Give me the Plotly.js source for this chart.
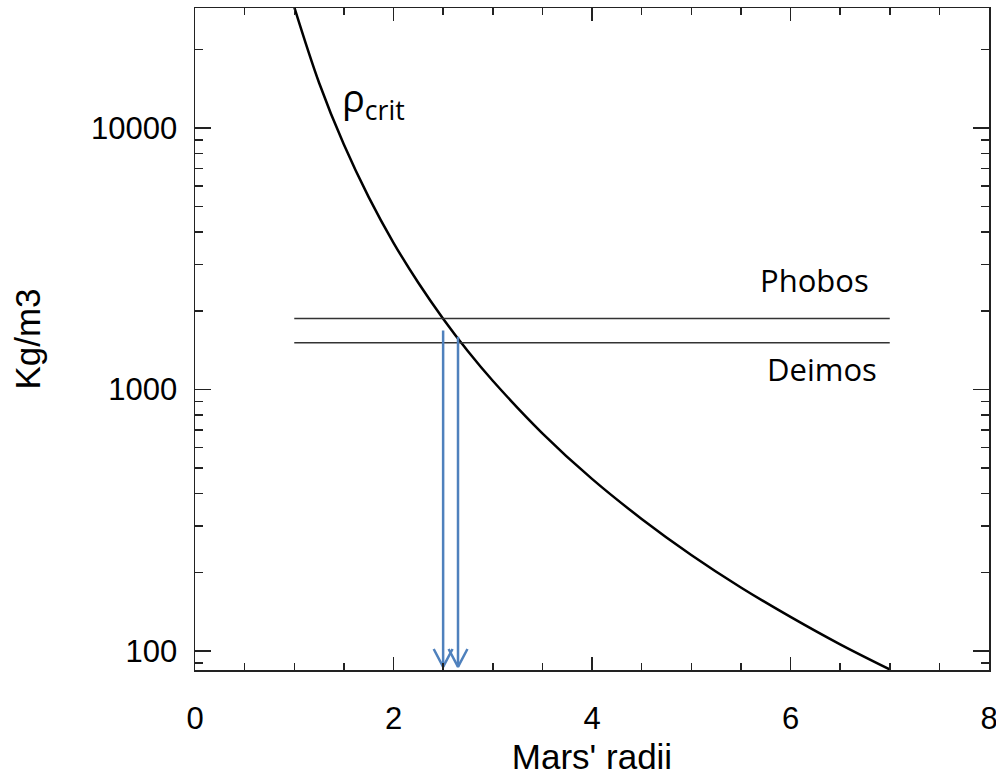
<!DOCTYPE html>
<html>
<head>
<meta charset="utf-8">
<script src="https://cdn.plot.ly/plotly-3.0.1.min.js"></script>
<style>html,body{margin:0;padding:0;background:#fff;}#chart{width:996px;height:776px;}</style>
</head>
<body>
<div id="chart"></div>
<script>
// Critical density curve
const radii = [1.0, 1.25, 1.5, 1.75, 2.0, 2.25, 2.5, 2.75, 3.0, 3.5, 4.0, 4.5, 5.0, 5.5, 6.0, 6.5, 7.0];
const rhoCrit = [29000, 14900, 8640, 5440, 3640, 2560, 1866, 1400, 1080, 680, 455, 320, 233, 175, 135, 106, 85];

// Moon densities (horizontal lines)
const moonNames = ['Phobos', 'Deimos'];
const moonDensity = [1870, 1510];
const moonSpan = [1, 7];

// Arrows (x position, top value, tip value)
const arrowX = [2.50, 2.65];
const arrowTop = [1680, 1590];
const arrowTip = [87, 87];

// Ticks
const xTickVals = [0, 2, 4, 6, 8];
const yTickVals = [100, 1000, 10000];
const yTickText = ['100', '1000', '10000'];
const yMinorVals = [90, 200, 300, 400, 500, 600, 700, 800, 900, 2000, 3000, 4000, 5000, 6000, 7000, 8000, 9000, 20000];

const traces = [];
traces.push({x: radii, y: rhoCrit, mode: 'lines', line: {color: '#000', width: 2.5, shape: 'spline'}, hoverinfo: 'skip'});
moonDensity.forEach(d => {
  traces.push({x: moonSpan, y: [d, d], mode: 'lines', line: {color: '#333', width: 1.5}, hoverinfo: 'skip'});
});
const blue = '#4f81bd';
const headHalf = 0.095, headRatio = 1.17;
arrowX.forEach((ax, i) => {
  traces.push({x: [ax, ax], y: [arrowTop[i], arrowTip[i]], mode: 'lines', line: {color: blue, width: 2.5}, hoverinfo: 'skip'});
  traces.push({x: [ax - headHalf, ax, ax + headHalf], y: [arrowTip[i] * headRatio, arrowTip[i], arrowTip[i] * headRatio], mode: 'lines', line: {color: blue, width: 2.5}, hoverinfo: 'skip'});
});

const axFont = {family: 'Liberation Sans, Arial, sans-serif', size: 31, color: '#000'};
const layout = {
  width: 996, height: 776,
  margin: {l: 195, r: 7, t: 8, b: 106},
  paper_bgcolor: '#fff', plot_bgcolor: '#fff',
  showlegend: false,
  xaxis: {
    range: [0, 8], tickvals: xTickVals, ticktext: xTickVals.map(String),
    ticks: 'inside', ticklen: 13, tickwidth: 1.5, tickcolor: '#222',
    minor: {dtick: 0.5, tick0: 0, ticks: 'inside', ticklen: 7, tickwidth: 1.5, tickcolor: '#222'},
    showline: true, linecolor: '#222', linewidth: 1.5, mirror: 'ticks',
    showgrid: false, zeroline: false,
    tickfont: axFont, ticklabelstandoff: 20, ticklabeloverflow: 'allow',
    title: {text: "Mars' radii", font: {family: 'Liberation Sans, Arial, sans-serif', size: 35, color: '#000'}, standoff: 16}
  },
  yaxis: {
    type: 'log', range: [1.9273, 4.4589],
    tickvals: yTickVals, ticktext: yTickText,
    ticks: 'inside', ticklen: 16, tickwidth: 1.5, tickcolor: '#222',
    minor: {tickmode: 'array', tickvals: yMinorVals, ticks: 'inside', ticklen: 8, tickwidth: 1.5, tickcolor: '#222'},
    showline: true, linecolor: '#222', linewidth: 1.5, mirror: 'ticks',
    showgrid: false, zeroline: false,
    tickfont: axFont, ticklabelstandoff: 10, ticklabeloverflow: 'allow',
    title: {text: 'Kg/m3', font: {family: 'Liberation Sans, Arial, sans-serif', size: 35, color: '#000'}, standoff: 40}
  },
  annotations: [
    {x: 6.24, y: Math.log10(2625), xref: 'x', yref: 'y', text: moonNames[0], showarrow: false, font: {family: 'Open Sans, sans-serif', size: 31, color: '#000'}},
    {x: 6.32, y: Math.log10(1203), xref: 'x', yref: 'y', text: moonNames[1], showarrow: false, font: {family: 'Open Sans, sans-serif', size: 31, color: '#000'}},
    {x: 1.80, y: Math.log10(12800), xref: 'x', yref: 'y', text: 'ρ<sub>crit</sub>', showarrow: false, font: {family: 'Open Sans, sans-serif', size: 38, color: '#000'}}
  ]
};
Plotly.newPlot('chart', traces, layout, {displayModeBar: false, staticPlot: true});
</script>
</body>
</html>
